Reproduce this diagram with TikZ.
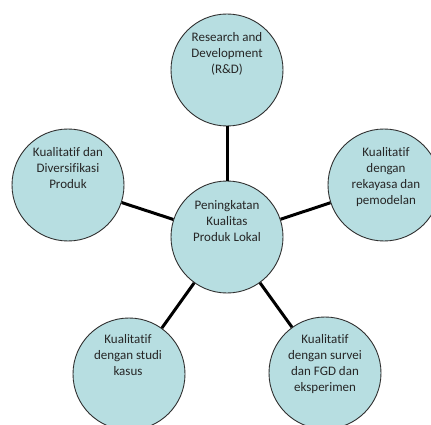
\documentclass[tikz,border=0pt]{standalone}
\usepackage{fontspec}
\setmainfont{Carlito}[Ligatures=NoCommon]
\definecolor{bubfill}{HTML}{B7DEE1}
\definecolor{bubline}{HTML}{303030}
\tikzset{
  bub/.style={circle, minimum size=112pt, inner sep=0pt, fill=bubfill, draw=bubline, line width=0.9pt},
  txt/.style={anchor=north, align=center, inner sep=0pt, font=\fontsize{13pt}{16pt}\selectfont, text=black!85},
  conn/.style={line width=3pt, black}
}
\begin{document}
\begin{tikzpicture}[x=1pt, y=-1pt]
\clip (0,0) rectangle (431,425);
\useasboundingbox (0,0) rectangle (431,425);
\fill[white] (0,0) rectangle (431,425);
% circles
\node[bub] (c)  at (227,237) {};
\node[bub] (t)  at (227,70)  {};
\node[bub] (l)  at (68,185)  {};
\node[bub] (r)  at (384,185) {};
\node[bub] (bl) at (129,374) {};
\node[bub] (br) at (325,373) {};
% connectors
\draw[conn] (c) -- (t);
\draw[conn] (c) -- (l);
\draw[conn] (c) -- (r);
\draw[conn] (c) -- (bl);
\draw[conn] (c) -- (br);
% texts
\node[txt] (ct)  at (227,200) {Peningkatan\\Kualitas\\Produk Lokal};
\node[txt] (tt)  at (227,32)  {Research and\\Development\\(R\&D)};
\node[txt] (lt)  at (68,147)  {Kualitatif dan\\Diversifikasi\\Produk};
\node[txt] (rt)  at (386,147) {Kualitatif\\dengan\\rekayasa dan\\pemodelan};
\node[txt] (blt) at (128,334) {Kualitatif\\dengan studi\\kasus};
\node[txt] (brt) at (325,334) {Kualitatif\\dengan survei\\dan FGD dan\\eksperimen};
\end{tikzpicture}
\end{document}
